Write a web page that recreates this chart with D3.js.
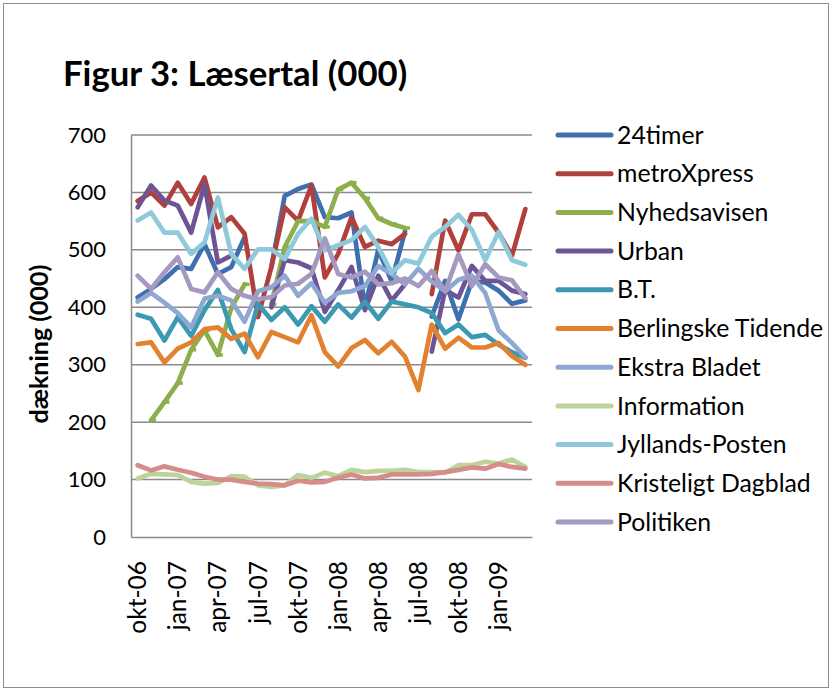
<!DOCTYPE html>
<html><head><meta charset="utf-8">
<script src="https://cdn.jsdelivr.net/npm/d3@7"></script>
<style>
html,body{margin:0;padding:0;background:#fff;}
svg{display:block;font-family:Lato,"Open Sans",sans-serif;}
</style></head>
<body>
<svg id="chart" width="832" height="691"></svg>
<script>
const months = ["okt-06","nov-06","dec-06","jan-07","feb-07","mar-07","apr-07","maj-07","jun-07","jul-07","aug-07","sep-07",
  "okt-07","nov-07","dec-07","jan-08","feb-08","mar-08","apr-08","maj-08","jun-08","jul-08","aug-08","sep-08",
  "okt-08","nov-08","dec-08","jan-09","feb-09","mar-09"];
const tickLabels = ["okt-06","jan-07","apr-07","jul-07","okt-07","jan-08","apr-08","jul-08","okt-08","jan-09"];
const yTicks = [0,100,200,300,400,500,600,700];

const t24timer = [417,432,449,470,467,510,458,470,522,null,470,594,606,614,557,555,565,400,500,445,532,null,384,446,379,446,443,429,406,412];
const metroXpress = [585,600,577,617,580,626,539,557,528,383,470,574,551,612,452,493,557,505,516,510,528,null,423,551,499,562,562,530,490,571];
const nyhedsavisen = [null,203,235,268,326,360,317,399,440,null,405,505,550,550,540,605,617,590,555,545,538,null,462,null,null,null,null,null,null,null];
const urban = [574,612,586,577,530,614,478,490,null,null,400,482,478,468,392,430,470,395,455,412,440,null,323,430,417,472,446,446,429,423];
const bt = [387,380,342,383,350,395,430,362,322,406,378,400,370,402,375,405,382,410,380,410,405,400,390,355,370,348,352,335,322,312];
const berlingske = [336,339,304,328,339,362,365,345,354,313,357,348,339,386,322,297,329,343,320,340,314,256,370,328,347,330,330,338,315,300];
const ekstraBladet = [410,425,408,390,365,415,420,412,375,428,435,455,420,442,408,425,428,437,472,458,440,467,445,428,448,455,425,360,338,313];
const information = [102,110,109,108,96,93,94,106,105,90,87,90,108,103,112,106,117,113,115,115,117,113,113,112,125,125,131,128,135,122];
const jyllandsPosten = [551,565,530,530,493,513,591,493,467,501,501,484,528,554,499,508,517,540,505,460,482,476,523,540,561,535,482,531,482,474];
const kristeligt = [125,116,123,117,112,105,100,100,96,93,92,90,98,95,96,103,109,102,103,109,109,109,110,113,117,121,119,127,122,119];
const politiken = [455,432,461,487,432,426,461,432,420,414,418,438,441,458,520,458,452,462,440,442,450,437,463,428,492,437,475,452,447,416];

const seriesNames = ["24timer","metroXpress","Nyhedsavisen","Urban","B.T.","Berlingske Tidende","Ekstra Bladet","Information","Jyllands-Posten","Kristeligt Dagblad","Politiken"];
const seriesValues = [t24timer, metroXpress, nyhedsavisen, urban, bt, berlingske, ekstraBladet, information, jyllandsPosten, kristeligt, politiken];
const seriesColors = ["#3F6FAF","#B0403D","#8CAE4C","#6E5495","#3C99B2","#E2812F","#8EA8D2","#BCD49A","#8FCADB","#D58C8A","#A598C1"];

const svg = d3.select("#chart");
const W = 832, H = 691;
const plot = {left:131, right:532, top:135, bottom:537};

// outer border
svg.append("rect").attr("x",3.5).attr("y",3.5).attr("width",W-7).attr("height",H-7)
  .attr("fill","#fff").attr("stroke","#8c8c8c").attr("stroke-width",1);

const x = d3.scaleBand().domain(months).range([plot.left, plot.right]).padding(0);
const xc = m => x(m) + x.bandwidth()/2;
const y = d3.scaleLinear().domain([0,700]).range([plot.bottom, plot.top]);

// gridlines
svg.append("g").selectAll("line").data(yTicks.filter(v=>v>0)).join("line")
  .attr("x1",plot.left).attr("x2",plot.right)
  .attr("y1",d=>y(d)).attr("y2",d=>y(d))
  .attr("stroke","#8a8a8a").attr("stroke-width",1.5);

// y axis
const yAxis = svg.append("g").attr("transform",`translate(${plot.left},0)`)
  .call(d3.axisLeft(y).tickValues(yTicks).tickSize(0).tickPadding(25).tickFormat(d3.format("d")));
yAxis.select(".domain").attr("stroke","#8a8a8a").attr("stroke-width",1.5);
yAxis.selectAll("text").attr("font-size",22).attr("fill","#000").attr("font-family","Lato");

// x axis
const xAxis = svg.append("g").attr("transform",`translate(0,${plot.bottom})`)
  .call(d3.axisBottom(x).tickValues(tickLabels).tickSize(0));
xAxis.select(".domain").attr("stroke","#8a8a8a").attr("stroke-width",1.5);
xAxis.selectAll("text")
  .attr("font-size",24.5).attr("fill","#000").attr("font-family","Lato")
  .attr("transform","rotate(-90)")
  .attr("text-anchor","end").attr("x",-24).attr("y",0).attr("dy","0.35em");

// lines
const line = d3.line().defined(d=>d.v!=null).x(d=>xc(d.m)).y(d=>y(d.v));
seriesNames.forEach((name,i)=>{
  const data = seriesValues[i].map((v,j)=>({m:months[j], v}));
  svg.append("path").datum(data)
    .attr("fill","none").attr("stroke",seriesColors[i]).attr("stroke-width",4.7)
    .attr("stroke-linejoin","round").attr("stroke-linecap","round")
    .attr("d",line);
  if (name === "Nyhedsavisen") {
    svg.append("g").selectAll("line").data(data.filter(d=>d.v!=null)).join("line")
      .attr("x1",d=>xc(d.m)-2).attr("x2",d=>xc(d.m)+5)
      .attr("y1",d=>y(d.v)).attr("y2",d=>y(d.v))
      .attr("stroke",seriesColors[i]).attr("stroke-width",3.5);
  }
});

// title
svg.append("text").attr("x",63).attr("y",86)
  .attr("font-size",34.7).attr("font-weight","bold").attr("font-family","Lato").attr("fill","#000")
  .text("Figur 3: Læsertal (000)");

// y axis title
svg.append("text").attr("transform",`translate(39,${(plot.top+plot.bottom)/2 + 8}) rotate(-90)`)
  .attr("text-anchor","middle").attr("dy","0.35em")
  .attr("font-size",25).attr("font-weight","bold").attr("font-family","Lato").attr("fill","#000")
  .text("dækning (000)");

// legend
const leg = svg.append("g");
seriesNames.forEach((name,i)=>{
  const yy = 135 + i*38.7;
  leg.append("line").attr("x1",558).attr("x2",611).attr("y1",yy).attr("y2",yy)
    .attr("stroke",seriesColors[i]).attr("stroke-width",5).attr("stroke-linecap","round");
  leg.append("text").attr("x",617).attr("y",yy).attr("dy","0.35em")
    .attr("font-size",24.8).attr("font-family","Lato").attr("fill","#000").text(name);
});
</script>
</body></html>
